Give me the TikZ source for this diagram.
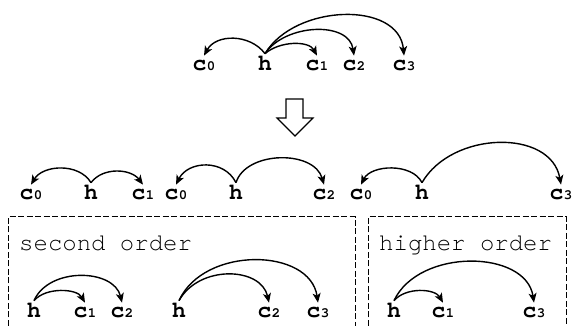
\documentclass[tikz,border=0pt]{standalone}
\usepackage{fontspec}
\setmonofont{texgyrecursor}[Extension=.otf, UprightFont=*-regular, BoldFont=*-bold]
\usetikzlibrary{arrows.meta}
\newcommand{\cc}[1]{c\kern0.5pt{\fontsize{14}{14}\selectfont #1}}
\tikzset{
  lab/.style={inner sep=0pt, anchor=base, font=\ttfamily\bfseries\fontsize{23}{23}\selectfont},
  hlab/.style={lab, outer ysep=3pt},
  clab/.style={lab, outer ysep=5pt},
  ttl/.style={font=\ttfamily\fontsize{24}{24}\selectfont, inner sep=0pt, anchor=base west},
  dep/.style={line width=1.4pt, -{Stealth[length=9.5pt,width=8pt,inset=2.5pt]}},
  grp/.style={line width=1pt, dash pattern=on 6pt off 2.5pt},
  blockarrow/.style={line width=1.2pt, draw=black, fill=white}
}
\begin{document}
\begin{tikzpicture}[x=1pt,y=1pt]
\useasboundingbox (0,0) rectangle (574,-326);
% top row
\node[clab] (tc0) at (204,-71) {\cc{0}};
\node[hlab] (th)  at (265,-71) {h};
\node[clab] (tc1) at (317,-71) {\cc{1}};
\node[clab] (tc2) at (354,-71) {\cc{2}};
\node[clab] (tc3) at (404,-71) {\cc{3}};
\draw[dep] (th.north) .. controls +(-15,20) and +(12,22) .. (tc0.north);
\draw[dep] (th.north) .. controls +(15,13) and +(-8,15) .. (tc1.north);
\draw[dep] (th.north) .. controls +(20,30) and +(-5,35) .. (tc2.north);
\draw[dep] (th.north) .. controls +(30,50) and +(-5,55) .. (tc3.north);
% block arrow
\draw[blockarrow] (286,-99) -- (303,-99) -- (303,-118) -- (313,-118) -- (295,-136) -- (277,-118) -- (286,-118) -- cycle;
% middle row A
\node[clab] (ac0) at (31,-200) {\cc{0}};
\node[hlab] (ah)  at (91,-200) {h};
\node[clab] (ac1) at (143,-200) {\cc{1}};
\draw[dep] (ah.north) .. controls +(-12,20) and +(12,20) .. (ac0.north);
\draw[dep] (ah.north) .. controls +(12,16) and +(-12,16) .. (ac1.north);
% middle row B
\node[clab] (bc0) at (176,-200) {\cc{0}};
\node[hlab] (bh)  at (236,-200) {h};
\node[clab] (bc2) at (324,-200) {\cc{2}};
\draw[dep] (bh.north) .. controls +(-12,24) and +(12,24) .. (bc0.north);
\draw[dep] (bh.north) .. controls +(10,32) and +(-10,35) .. (bc2.north);
% middle row C
\node[clab] (cc0) at (361,-200) {\cc{0}};
\node[hlab] (ch)  at (422,-200) {h};
\node[clab] (cc3) at (561,-200) {\cc{3}};
\draw[dep] (ch.north) .. controls +(-10,20) and +(10,20) .. (cc0.north);
\draw[dep] (ch.north) .. controls +(30,52) and +(-10,56) .. (cc3.north);
% group boxes
\draw[grp] (8,-326) -- (8,-217) -- (355,-217) -- (355,-326);
\draw[grp] (368,-326) -- (368,-217) -- (566,-217) -- (566,-326);
\node[ttl] (t2) at (19,-251) {second order};
\node[ttl] (t3) at (379,-251) {higher order};
% bottom group 1
\node[hlab] (dh)  at (34,-318) {h};
\node[clab] (dc1) at (85,-318) {\cc{1}};
\node[clab] (dc2) at (122,-318) {\cc{2}};
\draw[dep] (dh.north) .. controls +(12,14) and +(-8,14) .. (dc1.north);
\draw[dep] (dh.north) .. controls +(15,34) and +(-8,34) .. (dc2.north);
% bottom group 2
\node[hlab] (eh)  at (179,-318) {h};
\node[clab] (ec2) at (269,-318) {\cc{2}};
\node[clab] (ec3) at (318,-318) {\cc{3}};
\draw[dep] (eh.north) .. controls +(20,36) and +(-8,36) .. (ec2.north);
\draw[dep] (eh.north) .. controls +(25,55) and +(-8,55) .. (ec3.north);
% bottom group 3
\node[hlab] (fh)  at (394,-318) {h};
\node[clab] (fc1) at (443,-318) {\cc{1}};
\node[clab] (fc3) at (534,-318) {\cc{3}};
\draw[dep] (fh.north) .. controls +(12,14) and +(-8,14) .. (fc1.north);
\draw[dep] (fh.north) .. controls +(25,53) and +(-8,53) .. (fc3.north);
\end{tikzpicture}
\end{document}
